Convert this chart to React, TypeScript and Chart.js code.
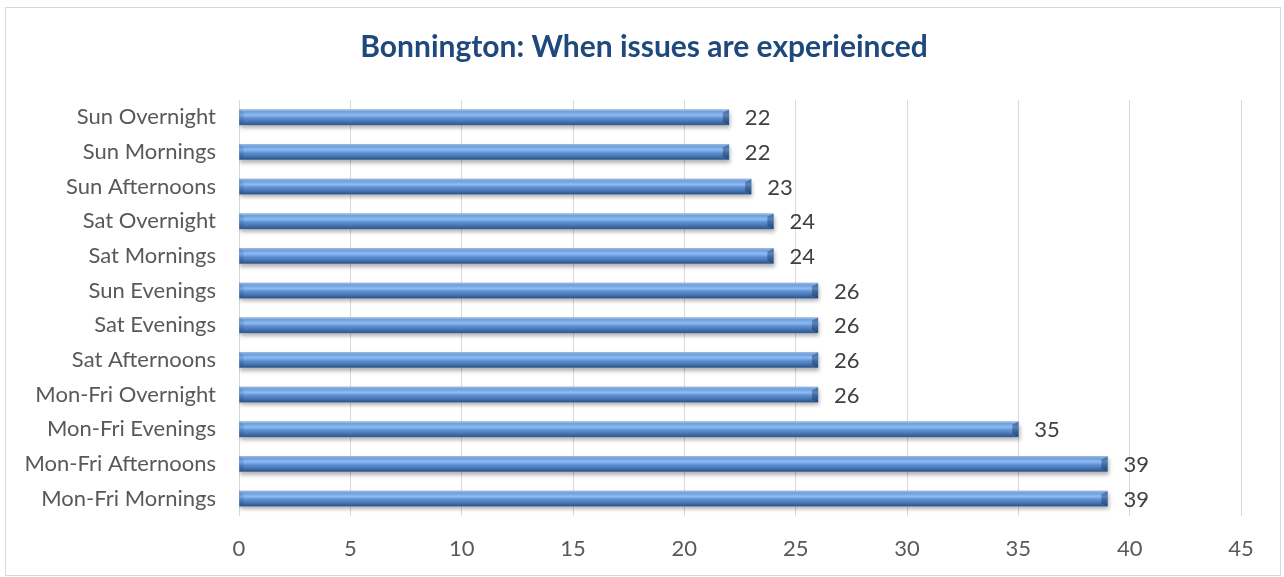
import React, { useEffect, useRef } from "react";
import { Chart, registerables } from "chart.js";

Chart.register(...registerables);

const categories = [
  "Sun Overnight",
  "Sun Mornings",
  "Sun Afternoons",
  "Sat Overnight",
  "Sat Mornings",
  "Sun Evenings",
  "Sat Evenings",
  "Sat Afternoons",
  "Mon-Fri Overnight",
  "Mon-Fri Evenings",
  "Mon-Fri Afternoons",
  "Mon-Fri Mornings",
];
const counts = [22, 22, 23, 24, 24, 26, 26, 26, 26, 35, 39, 39];
const xTicks = [0, 5, 10, 15, 20, 25, 30, 35, 40, 45];
const titleText = "Bonnington: When issues are experieinced";

const FONT = "Lato, 'Open Sans', sans-serif";

const shadowPlugin = {
  id: "barShadow",
  beforeDatasetDraw(chart: any) {
    const ctx = chart.ctx;
    ctx.save();
    ctx.shadowColor = "rgba(0,0,0,0.3)";
    ctx.shadowBlur = 4;
    ctx.shadowOffsetX = 1;
    ctx.shadowOffsetY = 3;
  },
  afterDatasetDraw(chart: any) {
    chart.ctx.restore();
  },
};

const shadePlugin = {
  id: "barShade",
  afterDatasetsDraw(chart: any) {
    const ctx = chart.ctx;
    const meta = chart.getDatasetMeta(0);
    ctx.save();
    meta.data.forEach((el: any, i: number) => {
      const { x, y, base, height } = el.getProps(["x", "y", "base", "height"], true);
      const top = y - height / 2;
      const g = ctx.createLinearGradient(0, top, 0, top + height);
      g.addColorStop(0, "#a9bedb");
      g.addColorStop(0.12, "#6a9ee0");
      g.addColorStop(0.35, "#8fbdf2");
      g.addColorStop(0.55, "#5d91d6");
      g.addColorStop(0.8, "#4573b0");
      g.addColorStop(1, "#2f507e");
      ctx.fillStyle = g;
      ctx.fillRect(base, top, x - base, height);
      // bevelled right end
      ctx.fillStyle = "rgba(20,45,80,0.4)";
      ctx.beginPath();
      ctx.moveTo(x - 6, top + 3);
      ctx.lineTo(x, top);
      ctx.lineTo(x, top + height);
      ctx.lineTo(x - 6, top + height - 3);
      ctx.closePath();
      ctx.fill();
      // subtle bevelled left end
      ctx.fillStyle = "rgba(20,45,80,0.15)";
      ctx.beginPath();
      ctx.moveTo(base, top);
      ctx.lineTo(base + 4, top + 3);
      ctx.lineTo(base + 4, top + height - 3);
      ctx.lineTo(base, top + height);
      ctx.closePath();
      ctx.fill();
      // value label
      ctx.fillStyle = "#404040";
      ctx.font = `22px ${FONT}`;
      ctx.textAlign = "left";
      ctx.textBaseline = "middle";
      ctx.fillText(String(counts[i]), x + 16, y + 1);
    });
    ctx.restore();
  },
};

const titlePlugin = {
  id: "centerTitle",
  afterDraw(chart: any) {
    const ctx = chart.ctx;
    ctx.save();
    ctx.fillStyle = "#1f497d";
    ctx.font = `bold 30px ${FONT}`;
    ctx.textAlign = "center";
    ctx.textBaseline = "middle";
    ctx.fillText(titleText, chart.width / 2 + 2, 47);
    ctx.restore();
  },
};

export default function App() {
  const ref = useRef<HTMLCanvasElement | null>(null);

  useEffect(() => {
    if (!ref.current) return;
    const chart = new Chart(ref.current, {
      type: "bar",
      data: {
        labels: categories,
        datasets: [
          {
            data: counts,
            backgroundColor: "#5b8fd3",
            borderWidth: 0,
            barThickness: 15,
          },
        ],
      },
      options: {
        indexAxis: "y",
        responsive: false,
        animation: false,
        devicePixelRatio: 1,
        layout: { padding: { left: 0, right: 43, top: 100, bottom: 17 } },
        plugins: {
          legend: { display: false },
          tooltip: { enabled: false },
          title: { display: false },
        },
        scales: {
          x: {
            type: "linear",
            min: 0,
            max: 45,
            afterBuildTicks: (scale: any) => {
              scale.ticks = xTicks.map((v) => ({ value: v }));
            },
            afterFit: (scale: any) => {
              scale.height = 44;
            },
            grid: { color: "#d9d9d9", lineWidth: 1, drawTicks: false },
            border: { display: false },
            ticks: {
              color: "#595959",
              font: { family: FONT, size: 22 },
              padding: 20,
              maxRotation: 0,
            },
          },
          y: {
            afterFit: (scale: any) => {
              scale.width = 239;
            },
            grid: { display: false, drawTicks: false },
            border: { display: false },
            ticks: {
              color: "#595959",
              font: { family: FONT, size: 22 },
              padding: 23,
            },
          },
        },
      },
      plugins: [shadowPlugin, shadePlugin, titlePlugin],
    } as any);
    return () => chart.destroy();
  }, []);

  return (
    <div style={{ position: "absolute", left: 0, top: 0, width: 1284, height: 577, background: "#fff" }}>
      <canvas ref={ref} width={1284} height={577} style={{ position: "absolute", left: 0, top: 0 }} />
      <div
        style={{
          position: "absolute",
          left: 5,
          top: 7,
          width: 1274,
          height: 567,
          border: "1px solid #d9d9d9",
          pointerEvents: "none",
        }}
      />
    </div>
  );
}
